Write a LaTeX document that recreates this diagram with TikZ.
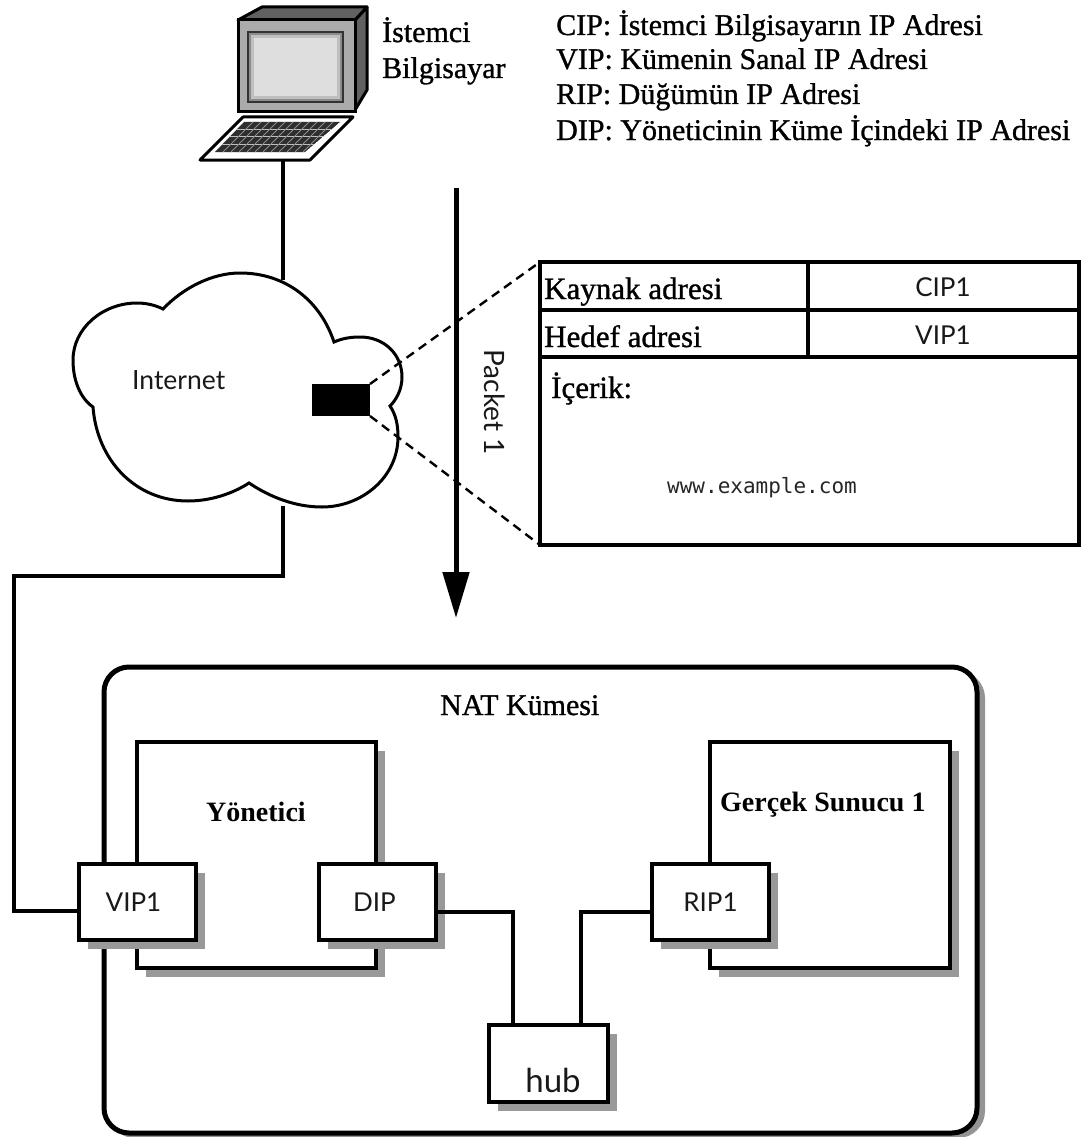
\documentclass[tikz,border=0pt]{standalone}
\usepackage{fontspec}
\setmainfont{Liberation Serif}
\newfontfamily\fbold[FakeBold=1.0]{Liberation Serif}
\newfontfamily\geo{Lato}
\newfontfamily\mono{DejaVu Sans Mono}
\usetikzlibrary{shadows,arrows.meta,calc}
\tikzset{
  x=1pt,y=-1pt,
  wire/.style={line width=3.5pt,line join=miter},
  shadowbox/.style={draw,line width=4pt,fill=white,rectangle,inner sep=0pt,outer sep=0pt,
    drop shadow={shadow xshift=9pt,shadow yshift=-9pt,fill=black!40,opacity=1}},
  port/.style={shadowbox,minimum width=117pt,minimum height=76pt,font=\geo\fontsize{26}{26}\selectfont,text=black!90},
  lbl/.style={inner sep=0pt,anchor=base west,font=\fbold\fontsize{30}{30}\selectfont},
  lblk/.style={lbl,font=\fbold\fontsize{31}{31}\selectfont},
  lblb/.style={lbl,font=\fontsize{28}{28}\selectfont\bfseries},
  sans/.style={inner sep=0pt,font=\geo\fontsize{26}{26}\selectfont,text=black!90},
  cell/.style={draw,line width=4pt,fill=white,rectangle,inner sep=0pt,outer sep=0pt},
  pdash/.style={line width=2.4pt,dash pattern=on 9pt off 6pt},
}
\begin{document}
\begin{tikzpicture}
\useasboundingbox (0,0) rectangle (1089,1137);
\fill[white] (0,0) rectangle (1089,1137);

% computer
\fill[black!62,draw=black,line width=3pt,line join=round] (355,20)--(367,7)--(367,90)--(355,110)--cycle;
\fill[black!62,draw=black,line width=3pt,line join=round] (238,20)--(262,7)--(367,7)--(355,20)--cycle;
\node[draw,line width=3pt,fill=black!33,minimum width=117pt,minimum height=92pt,inner sep=0pt,outer sep=0pt,anchor=north west] (monitor) at (238,20) {};
\node[draw=black!80,line width=2.5pt,fill=black!45,minimum width=95pt,minimum height=70pt,inner sep=0pt,outer sep=0pt,anchor=north west] (screen) at (248,32) {};
\fill[black!25] (251,35) rectangle (340,99);
\fill[black!13] (254,38) rectangle (337,96);
\fill[white,draw=black,line width=3pt,line join=round] (243,117)--(353,117)--(310,160)--(200,160)--cycle;
\begin{scope}
\clip (244,122)--(340,122)--(305,152)--(215,152)--cycle;
\fill[black!82] (244,122)--(340,122)--(305,152)--(215,152)--cycle;
\foreach \y in {129,136,144}{\draw[white!75!black,line width=.9pt] (205,\y)--(350,\y);}
\foreach \k in {0,...,17}{\draw[black!45,line width=.8pt] (222+\k*8,153)--(254+\k*8,121);}
\end{scope}
\coordinate (kbd) at (283,160);

% cloud
\draw[line width=3pt,fill=white,line join=miter] (93,407)
 .. controls (80,398) and (73,380) .. (73,360)
 .. controls (73,328) and (103,303) .. (137,303)
 .. controls (146,303) and (155,305) .. (163,309)
 .. controls (183,288) and (212,273) .. (240,273)
 .. controls (285,273) and (320,300) .. (334,342)
 .. controls (343,338) and (352,337) .. (360,337)
 .. controls (385,337) and (402,355) .. (402,377)
 .. controls (402,390) and (396,400) .. (390,406)
 .. controls (396,415) and (398,425) .. (398,437)
 .. controls (398,477) and (362,507) .. (322,507)
 .. controls (295,507) and (270,497) .. (249,483)
 .. controls (232,494) and (210,501) .. (188,501)
 .. controls (135,501) and (97,460) .. (93,407) -- cycle;
\coordinate (cloudtop) at (283,280);
\coordinate (cloudbot) at (283,506);
\node[sans,anchor=base west,font=\geo\fontsize{26.5}{27}\selectfont] (inet) at (132,389) {Internet};
\node[fill=black,minimum width=58pt,minimum height=32pt,inner sep=0pt,outer sep=0pt,anchor=north west] (packet) at (312,384) {};
\draw[wire] (kbd)--(cloudtop);

% legend
\node[lbl] (t1) at (556,35) {CIP: İstemci Bilgisayarın IP Adresi};
\node[lbl] (t2) at (556,69) {VIP: Kümenin Sanal IP Adresi};
\node[lbl] (t3) at (556,104) {RIP: Düğümün IP Adresi};
\node[lbl] (t4) at (556,140) {DIP: Yöneticinin Küme İçindeki IP Adresi};
\node[lbl] (c1) at (382,42) {İstemci};
\node[lbl] (c2) at (382,78) {Bilgisayar};

% arrow
\coordinate (as) at (456,188);
\coordinate (ae) at (456,618);
\draw[line width=5pt,-{Triangle[length=46pt,width=26pt]}] (as)--(ae);
\node[sans,rotate=-90,font=\geo\fontsize{28}{28}\selectfont] (pk) at (495,402) {Packet 1};

% table
\node[cell,minimum width=539pt,minimum height=283pt,anchor=north west] (tbl) at (540,262) {};
\draw[line width=4pt] (540,310)--(1079,310) (540,357)--(1079,357) (808,262)--(808,357);
\node[lblk] (k1) at (544,299) {Kaynak adresi};
\node[lblk] (k2) at (544,347) {Hedef adresi};
\node[sans] (v1) at (943,287) {CIP1};
\node[sans] (v2) at (943,335) {VIP1};
\node[lblk] (ic) at (551,398) {İçerik:};
\node[inner sep=0pt,font=\mono\fontsize{21}{21}\selectfont,text=black!85] (www) at (762,488) {www.example.com};
\draw[pdash] (packet.north east)--(tbl.north west);
\draw[pdash] (packet.south east)--(tbl.south west);

% cluster
\draw[line width=4pt,rounded corners=25pt,draw=black!42,fill=black!42] (110,673) rectangle (983,1136);
\draw[line width=5pt,rounded corners=25pt,fill=white] (104,667) rectangle (977,1133);
\node[lbl] (nat) at (440,715) {NAT Kümesi};
\node[shadowbox,minimum width=239pt,minimum height=226pt,anchor=north west] (yon) at (137,742) {};
\node[shadowbox,minimum width=240pt,minimum height=226pt,anchor=north west] (srv) at (710,742) {};
\node[lblb] (yont) at (206,821) {Yönetici};
\node[lblb] (srvt) at (720,811) {Gerçek Sunucu 1};
\node[port,anchor=north west] (vip) at (79,864) {\hspace*{-8pt}VIP1};
\node[port,anchor=north west] (dip) at (319,864) {\hspace*{-6pt}DIP};
\node[port,anchor=north west] (rip) at (652,864) {RIP1};
\node[shadowbox,minimum width=119pt,minimum height=77pt,anchor=north west] (hub) at (489,1025) {};
\node[sans,anchor=base,font=\geo\fontsize{33}{33}\selectfont] (hubt) at (553,1092) {hub};

\coordinate (cb2) at (283,576);
\coordinate (vipw) at (79,911);
\coordinate (dipe) at (436,912);
\coordinate (ripw) at (652,912);
\coordinate (hubl) at (513,1025);
\coordinate (hubr) at (581,1025);
\draw[wire] (cloudbot)--(cb2)-|(14,911)--(vipw);
\draw[wire] (dipe)-|(hubl);
\draw[wire] (ripw)-|(hubr);
\end{tikzpicture}
\end{document}
